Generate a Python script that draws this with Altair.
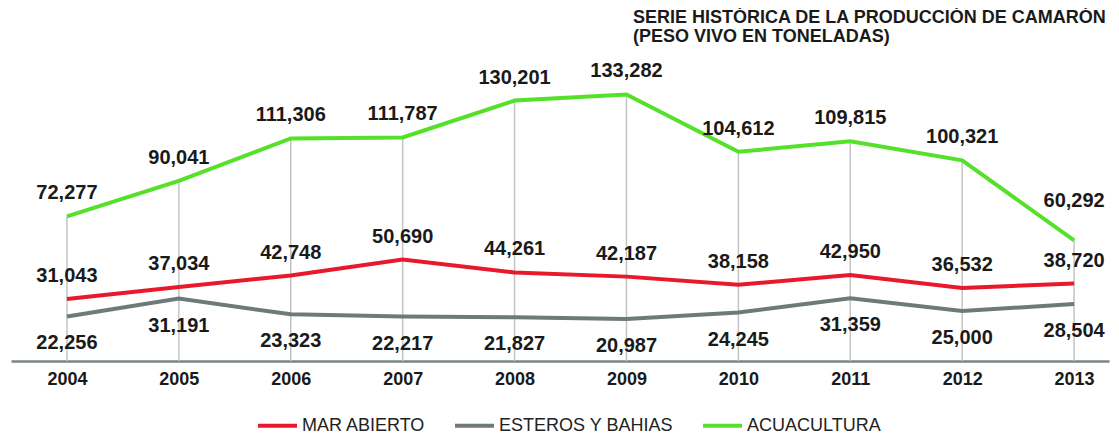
import altair as alt
import pandas as pd

years = [2004, 2005, 2006, 2007, 2008, 2009, 2010, 2011, 2012, 2013]
mar_abierto = [31043, 37034, 42748, 50690, 44261, 42187, 38158, 42950, 36532, 38720]
esteros = [22256, 31191, 23323, 22217, 21827, 20987, 24245, 31359, 25000, 28504]
acuacultura = [72277, 90041, 111306, 111787, 130201, 133282, 104612, 109815, 100321, 60292]

series_names = ["MAR ABIERTO", "ESTEROS Y BAHIAS", "ACUACULTURA"]
series_colors = ["#e8192c", "#6e7a7a", "#55e02a"]
title_lines = ["SERIE HISTÓRICA DE LA PRODUCCIÓN DE CAMARÓN", "(PESO VIVO EN TONELADAS)"]

wide = pd.DataFrame({"year": years, "mar": mar_abierto, "est": esteros, "acu": acuacultura})
rows = []
for name, vals in zip(series_names, [mar_abierto, esteros, acuacultura]):
    for y, v in zip(years, vals):
        rows.append({"year": y, "serie": name, "valor": v})
long = pd.DataFrame(rows)

FONT = "Liberation Sans"
TXT = "#1a1a1a"

xs = alt.Scale(domain=[2003.5, 2013.312], nice=False, zero=False)
ys = alt.Scale(domain=[0, 140000], nice=False)

x_axis = alt.Axis(values=years, format="d", title=None, grid=False, ticks=False,
                  domainColor="#7a8585", domainWidth=2.5, labelFont=FONT,
                  labelFontSize=18, labelFontWeight="bold", labelColor=TXT,
                  labelPadding=9, labelFlush=False)

def X():
    return alt.X("year:Q", scale=xs, axis=x_axis)

rules = alt.Chart(wide).mark_rule(color="#c4c4c4", strokeWidth=1.5).encode(
    x=X(),
    y=alt.Y("acu:Q", scale=ys, axis=None),
    y2=alt.datum(0),
)

lines = alt.Chart(long).mark_line(strokeWidth=4).encode(
    x=X(),
    y=alt.Y("valor:Q", scale=ys, axis=None),
    color=alt.Color("serie:N",
                    scale=alt.Scale(domain=series_names, range=series_colors),
                    sort=series_names,
                    legend=alt.Legend(title=None, orient="none", legendX=245, legendY=323,
                                      direction="horizontal", symbolType="stroke",
                                      symbolSize=1521, symbolStrokeWidth=4, padding=0,
                                      labelFont=FONT, labelFontSize=18, labelColor="#222222",
                                      labelOffset=3, columnPadding=21, labelLimit=400)),
    detail="serie:N",
)

def labels(df, field, dy, flt=None):
    c = alt.Chart(df)
    if flt is not None:
        c = c.transform_filter(flt)
    return c.mark_text(font=FONT, fontSize=20, fontWeight="bold", color=TXT,
                       align="center", baseline="alphabetic", dy=dy).encode(
        x=X(),
        y=alt.Y(f"{field}:Q", scale=ys, axis=None),
        text=alt.Text(f"{field}:Q", format=","),
    )

t_acu = labels(wide, "acu", -17, alt.datum.year != 2013)
t_acu_last = labels(wide, "acu", -33, alt.datum.year == 2013)
t_mar = labels(wide, "mar", -17)
t_est = labels(wide, "est", 33)

chart = alt.layer(rules, lines, t_acu, t_acu_last, t_mar, t_est).properties(
    width=1098, height=280,
    padding={"left": 3, "top": 73, "right": 2, "bottom": 75},
    autosize=alt.AutoSizeParams(type="none"),
    view=alt.ViewBackground(stroke="transparent", strokeWidth=0),
    title=alt.TitleParams(text=title_lines, anchor="start", dx=622, dy=-11, fontSize=18,
                          font=FONT, fontWeight="bold", color=TXT, lineHeight=19,
                          frame="group"),
).configure_view(stroke="transparent", strokeWidth=0).configure(background="white")

chart.save("out.html", embed_options={"renderer": "svg", "actions": False})
